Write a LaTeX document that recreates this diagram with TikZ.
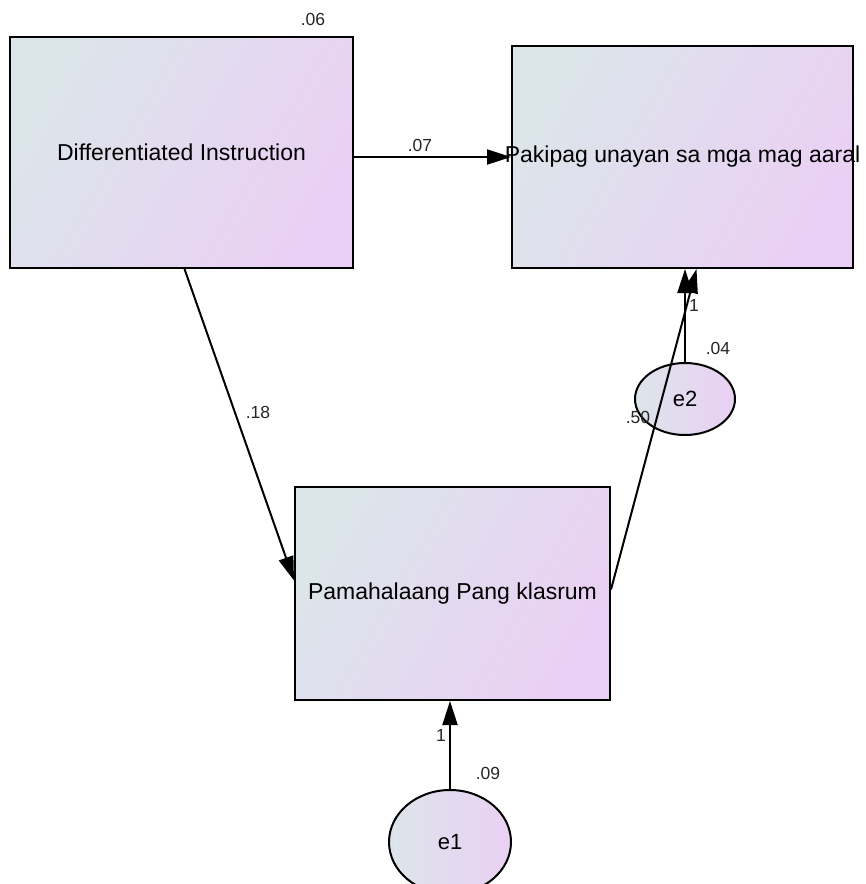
\documentclass[tikz,border=0pt]{standalone}
\usepackage{fontspec}
\setmainfont{Liberation Sans}
\usetikzlibrary{arrows.meta,shapes.geometric,calc}
\definecolor{leftc}{RGB}{220,229,234}
\definecolor{rightc}{RGB}{234,208,244}
\tikzset{
  varbox/.style={draw=black, line width=2pt, shading=axis, left color=leftc, right color=rightc, shading angle=60,
    inner sep=0pt, font=\fontsize{23}{26}\selectfont},
  errvar/.style={ellipse, draw=black, line width=2pt, left color=leftc, right color=rightc,
    inner sep=0pt, font=\fontsize{22}{24}\selectfont},
  path/.style={draw=black, line width=2pt, -{Triangle[length=24pt,width=15pt]}},
  est/.style={font=\fontsize{17.5}{20}\selectfont, text=black!85, inner sep=0pt}
}
\begin{document}
\begin{tikzpicture}[x=1pt,y=-1pt]
\useasboundingbox (0,0) rectangle (866,884);
\node[varbox, minimum width=343pt, minimum height=231pt] (di) at (181.5,152.5) {Differentiated Instruction};
\node[varbox, minimum width=341pt, minimum height=222pt] (pak) at (682.5,157) {};
\node[varbox, minimum width=315pt, minimum height=213pt] (mid) at (452.5,593.5) {Pamahalaang Pang klasrum};
\node[errvar, minimum width=122pt, minimum height=104pt] (e1) at (450,842) {e1};
\node[errvar, minimum width=100pt, minimum height=72pt] (e2) at (685,399) {e2};
% connectors
\draw[path] (di.east |- pak.west) -- (pak.west);
\draw[path] ($(di.south)+(3,0)$) -- ($(mid.west)+(0,-13)$);
\draw[path] (e2.north) -- (e2.north |- pak.south);
\draw[path] ($(mid.east)+(0,-4)$) -- ($(pak.south)+(14,0)$);
\draw[path] (e1.north) -- (e1.north |- mid.south);
\node[font=\fontsize{23}{26}\selectfont, inner sep=0pt] (paktext) at (pak.center) {Pakipag unayan sa mga mag aaral};
% estimates
\node[est] (l06) at (313,19) {.06};
\node[est] (l07) at (420,145) {.07};
\node[est] (l18) at (258,412) {.18};
\node[est] (l50) at (638,417) {.50};
\node[est] (l1a) at (694,305) {1};
\node[est] (l04) at (718,348) {.04};
\node[est] (l1b) at (441,735) {1};
\node[est] (l09) at (488,773) {.09};
\end{tikzpicture}
\end{document}
